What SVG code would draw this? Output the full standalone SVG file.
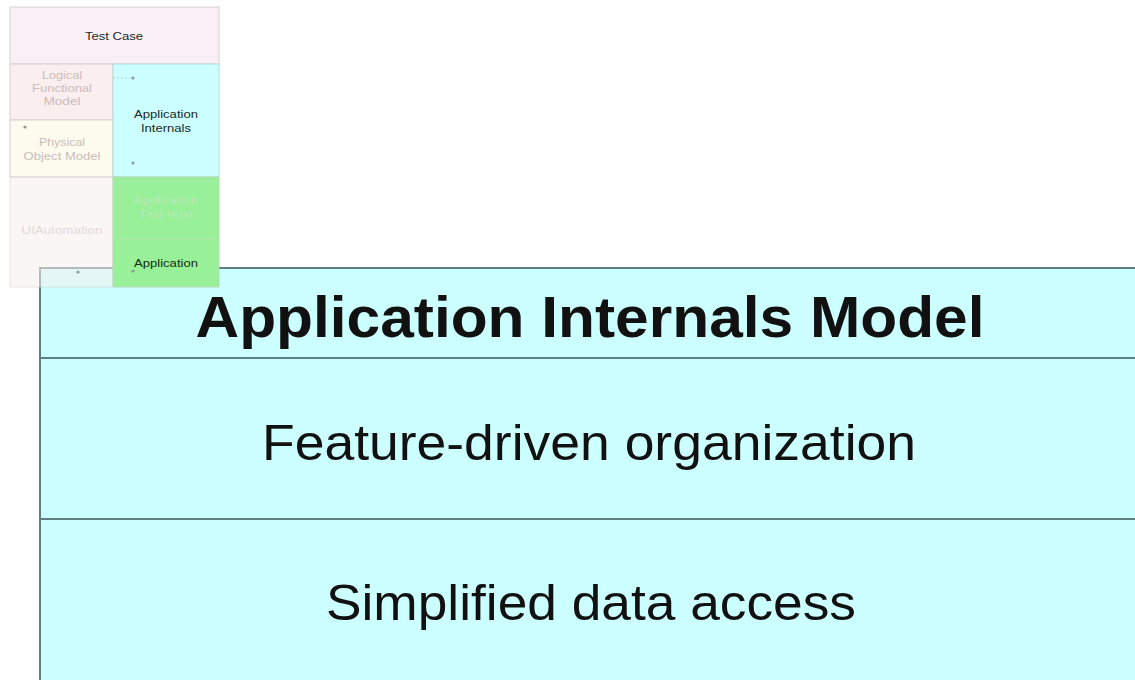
<svg xmlns="http://www.w3.org/2000/svg" width="1135" height="680" viewBox="0 0 1135 680">
  <style>
    .small { font-family: "Liberation Sans", Arial, sans-serif; font-size: 11px; text-anchor: middle; }
    .faded { fill: #c9bcbc; }
    .dark { fill: #1a2a2a; }
    .big { font-family: "Liberation Sans", Arial, sans-serif; text-anchor: middle; fill: #111; }
    .cell { stroke: #d8d0d0; stroke-width: 1; }
    .dot { fill: #8a9a9a; }
  </style>
  <rect width="1135" height="680" fill="#ffffff"/>

  <!-- layered stack overview -->
  <g id="test-case">
    <rect x="10" y="7" width="209" height="57" fill="#f8f0f4" class="cell"/>
    <text x="114" y="40" class="small dark" textLength="58" lengthAdjust="spacingAndGlyphs">Test Case</text>
  </g>
  <g id="logical-functional-model">
    <rect x="10" y="64" width="103" height="56" fill="#fbeeee" class="cell"/>
    <text x="62" y="79" class="small faded" textLength="40" lengthAdjust="spacingAndGlyphs">Logical</text>
    <text x="62" y="92" class="small faded" textLength="60" lengthAdjust="spacingAndGlyphs">Functional</text>
    <text x="62" y="105" class="small faded" textLength="37" lengthAdjust="spacingAndGlyphs">Model</text>
  </g>
  <g id="physical-object-model">
    <rect x="10" y="120" width="103" height="57" fill="#fdfbee" class="cell"/>
    <text x="62" y="146" class="small faded" textLength="46" lengthAdjust="spacingAndGlyphs">Physical</text>
    <text x="62" y="160" class="small faded" textLength="77" lengthAdjust="spacingAndGlyphs">Object Model</text>
  </g>
  <g id="application-internals">
    <rect x="113" y="64" width="106" height="113" fill="#ccffff" stroke="#b8d8d8" stroke-width="1"/>
    <text x="166" y="118" class="small dark" textLength="64" lengthAdjust="spacingAndGlyphs">Application</text>
    <text x="166" y="132" class="small dark" textLength="50" lengthAdjust="spacingAndGlyphs">Internals</text>
  </g>

  <!-- main model panel -->
  <g id="model-panel">
    <rect x="40" y="268" width="1110" height="430" fill="#ccffff" stroke="#5f7f7f" stroke-width="2"/>
    <line x1="40" y1="358" x2="1135" y2="358" stroke="#5f7f7f" stroke-width="2"/>
    <line x1="40" y1="519" x2="1135" y2="519" stroke="#5f7f7f" stroke-width="2"/>
    <text x="590" y="337" class="big" font-size="57" font-weight="bold" textLength="789" lengthAdjust="spacingAndGlyphs">Application Internals Model</text>
    <text x="589" y="460" class="big" font-size="50" textLength="654" lengthAdjust="spacingAndGlyphs">Feature-driven organization</text>
    <text x="591" y="620" class="big" font-size="50" textLength="530" lengthAdjust="spacingAndGlyphs">Simplified data access</text>
  </g>

  <g id="ui-automation" opacity="0.55">
    <rect x="10" y="177" width="103" height="110" fill="#f8efef" class="cell"/>
    <text x="62" y="234" class="small faded" textLength="81" lengthAdjust="spacingAndGlyphs">UIAutomation</text>
  </g>
  <g id="application-test-host">
    <rect x="113" y="177" width="106" height="110" fill="#98f098" stroke="#b8d8b8" stroke-width="1"/>
    <rect x="120" y="181" width="95" height="58" fill="none" stroke="#b0e8b0" stroke-width="1"/>
    <text x="166" y="204" class="small" fill="#b8e8b8" textLength="64" lengthAdjust="spacingAndGlyphs">Application</text>
    <text x="166" y="218" class="small" fill="#b8e8b8" textLength="54" lengthAdjust="spacingAndGlyphs">Test Host</text>
  </g>
  <g id="application">
    <text x="166" y="267" class="small" fill="#103010" textLength="64" lengthAdjust="spacingAndGlyphs">Application</text>
  </g>

  <!-- faint connectors between layers -->
  <g id="connectors">
    <line x1="113" y1="78" x2="131" y2="78" stroke="#b0c0c0" stroke-width="0.8" stroke-dasharray="2,2"/>
    <circle cx="133" cy="78" r="1.6" class="dot"/>
    <circle cx="133" cy="163" r="1.6" class="dot"/>
    <circle cx="25" cy="127" r="1.6" class="dot"/>
    <circle cx="78" cy="272" r="1.6" class="dot"/>
    <circle cx="133" cy="271" r="1.6" class="dot"/>
  </g>
</svg>
